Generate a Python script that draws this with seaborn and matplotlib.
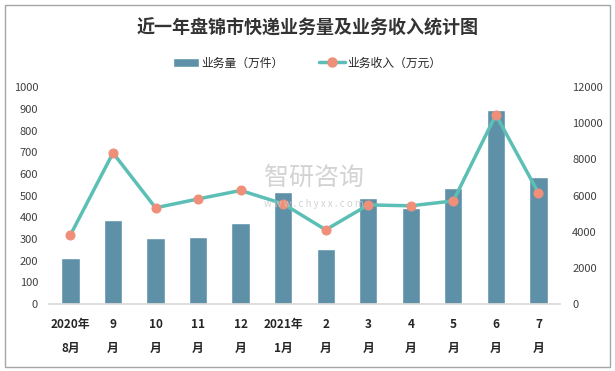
import numpy as np
import pandas as pd
import matplotlib
matplotlib.use("Agg")
import matplotlib.pyplot as plt
from matplotlib.lines import Line2D
from matplotlib.patches import Patch, Rectangle
import seaborn as sns

months = ["2020年\n8月", "9\n月", "10\n月", "11\n月", "12\n月", "2021年\n1月",
          "2\n月", "3\n月", "4\n月", "5\n月", "6\n月", "7\n月"]
volume = [211, 386, 303, 308, 372, 515, 252, 490, 443, 534, 894, 585]
income = [3820, 8360, 5320, 5810, 6280, 5540, 4100, 5480, 5430, 5700, 10470, 6150]

bar_color = "#5e91a8"
line_color = "#5cbfb6"
dot_color = "#ef8f7a"

sns.set_theme(style="white")
plt.rcParams['font.family'] = ['Noto Sans CJK SC', 'DejaVu Sans']

df = pd.DataFrame({"month": months, "volume": volume, "income": income})

fig = plt.figure(figsize=(6.15, 3.71), dpi=100)
ax = fig.add_axes([0.08, 0.181, 0.83, 0.584])

sns.barplot(data=df, x="month", y="volume", color=bar_color, saturation=1,
            width=0.43, ax=ax)
ax.set_ylim(0, 1000)
ax.set_yticks(range(0, 1001, 100))
ax.set_xlim(-0.5, len(months) - 0.5)
ax.set_xlabel("")
ax.set_ylabel("")
for s in ["top", "right", "left"]:
    ax.spines[s].set_visible(False)
ax.spines["bottom"].set_color("#d9d9d9")
ax.tick_params(axis="y", labelsize=8, colors="#404040", length=0, pad=8)
ax.tick_params(axis="x", length=0, pad=10)
for lab in ax.get_xticklabels():
    lab.set_fontsize(8.5)
    lab.set_fontweight("bold")
    lab.set_color("#262626")
    lab.set_linespacing(2.1)
    lab.set_verticalalignment("top")

ax2 = ax.twinx()
sns.lineplot(x=np.arange(len(months)), y=income, ax=ax2, color=line_color,
             linewidth=2.5, marker="o", markersize=6.5, markerfacecolor=dot_color,
             markeredgecolor=dot_color, zorder=3)
ax2.set_ylim(0, 12000)
ax2.set_yticks(range(0, 12001, 2000))
for s in ["top", "right", "left", "bottom"]:
    ax2.spines[s].set_visible(False)
ax2.tick_params(axis="y", labelsize=8, colors="#404040", length=0, pad=9)

fig.text(0.5, 0.925, "近一年盘锦市快递业务量及业务收入统计图", ha="center", va="center",
         fontsize=13, fontweight="bold", color="#333333")

handles = [Patch(facecolor=bar_color, label="业务量（万件）"),
           Line2D([0], [0], color=line_color, lw=2.5, marker="o", markersize=6.5,
                  markerfacecolor=dot_color, markeredgecolor=dot_color,
                  label="业务收入（万元）")]
fig.legend(handles=handles, loc="center", bbox_to_anchor=(0.5, 0.83), ncol=2,
           frameon=False, fontsize=8.5, handlelength=2.2, columnspacing=3,
           handletextpad=0.2)

# watermark
fig.text(0.51, 0.52, "智研咨询", fontsize=18, color="#c8c8c8", alpha=0.8,
         ha="center", va="center")
fig.text(0.51, 0.45, "w w w . c h y x x . c o m", fontsize=7, color="#c8c8c8",
         alpha=0.8, ha="center", va="center")

fig.add_artist(Rectangle((0.008, 0.012), 0.984, 0.975, transform=fig.transFigure,
                         fill=False, edgecolor="#a6a6a6", linewidth=1))

fig.savefig("out.png", dpi=100)
